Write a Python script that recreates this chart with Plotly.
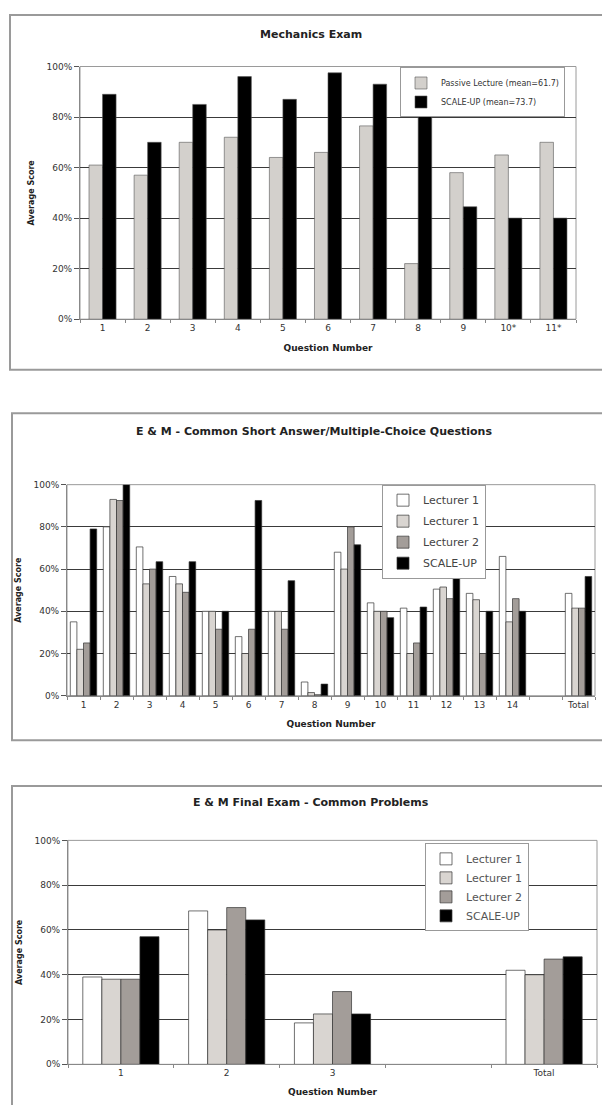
import plotly.graph_objects as go

# page body has an 8px default margin: the figure is sized so the page fits 610x1113
OFF = 8
W, H = 610 - OFF, 1113 - 2 * OFF

# ---------------- data ----------------
mech_questions = ["1", "2", "3", "4", "5", "6", "7", "8", "9", "10*", "11*"]
mech_passive = [61, 57, 70, 72, 64, 66, 76.5, 22, 58, 65, 70]
mech_scaleup = [89, 70, 85, 96, 87, 97.5, 93, 82, 44.5, 40, 40]
mech_names = ["Passive Lecture (mean=61.7)", "SCALE-UP (mean=73.7)"]

sa_questions = ["1", "2", "3", "4", "5", "6", "7", "8", "9", "10", "11", "12", "13", "14", " ", "Total"]
sa_lect1a = [35, 80, 70.5, 56.5, 40, 28, 40, 6.5, 68, 44, 41.5, 50.5, 48.5, 66, None, 48.5]
sa_lect1b = [22, 93, 53, 53, 40, 20, 40, 1.5, 60, 40, 20, 51.5, 45.5, 35, None, 41.5]
sa_lect2 = [25, 92.5, 60, 49, 31.5, 31.5, 31.5, 0.5, 80, 40, 25, 46, 20, 46, None, 41.5]
sa_scaleup = [79, 100, 63.5, 63.5, 40, 92.5, 54.5, 5.5, 71.5, 37, 42, 56, 40, 40, None, 56.5]

fe_questions = ["1", "2", "3", " ", "Total"]
fe_lect1a = [39, 68.5, 18.5, None, 42]
fe_lect1b = [38, 60, 22.5, None, 40]
fe_lect2 = [38, 70, 32.5, None, 47]
fe_scaleup = [57, 64.5, 22.5, None, 48]

group_names = ["Lecturer 1", "Lecturer 1", "Lecturer 2", "SCALE-UP"]
group_colors = ["#ffffff", "#d9d5d1", "#a39d99", "#000000"]
y_ticks = [0, 20, 40, 60, 80, 100]
y_ticktext = ["0%", "20%", "40%", "60%", "80%", "100%"]

FONT = "DejaVu Sans"


def px_x(p):
    return (p - OFF) / W


def px_y(p):
    return 1 - (p - OFF) / H


fig = go.Figure()

# ---------------- chart 1 ----------------
for i, (vals, col) in enumerate([(mech_passive, "#d3d0cc"), (mech_scaleup, "#000000")]):
    fig.add_trace(go.Bar(
        x=mech_questions, y=vals, name=mech_names[i],
        marker=dict(color=col, line=dict(color="#555555", width=0.6)),
        width=0.3, offset=-0.3 + 0.3 * i,
        xaxis="x", yaxis="y", legend="legend",
    ))

# ---------------- chart 2 ----------------
for i, vals in enumerate([sa_lect1a, sa_lect1b, sa_lect2, sa_scaleup]):
    fig.add_trace(go.Bar(
        x=sa_questions, y=vals, name=group_names[i],
        marker=dict(color=group_colors[i], line=dict(color="#333333", width=0.7)),
        width=0.2, offset=-0.4 + 0.2 * i,
        xaxis="x2", yaxis="y2", legend="legend2", legendgroup="a%d" % i,
    ))

# ---------------- chart 3 ----------------
for i, vals in enumerate([fe_lect1a, fe_lect1b, fe_lect2, fe_scaleup]):
    fig.add_trace(go.Bar(
        x=fe_questions, y=vals, name=group_names[i],
        marker=dict(color=group_colors[i], line=dict(color="#333333", width=0.7)),
        width=0.18, offset=-0.36 + 0.18 * i,
        xaxis="x3", yaxis="y3", legend="legend3", legendgroup="b%d" % i,
    ))

charts = [
    dict(xd=(80, 576), yd=(62, 317), box=(10, 10, 604, 368), title="Mechanics Exam", tx=311, ty=30, xt_standoff=12),
    dict(xd=(67, 595), yd=(484, 697), box=(12, 412, 604, 742), title="E & M - Common Short Answer/Multiple-Choice Questions", tx=314, ty=430, xt_standoff=12),
    dict(xd=(68, 597), yd=(843, 1069), box=(12, 788, 604, 1125), title="E & M Final Exam - Common Problems", tx=311, ty=805, xt_standoff=11),
]

layout = dict(
    width=W, height=H, autosize=False,
    margin=dict(l=0, r=0, t=0, b=0),
    paper_bgcolor="white", plot_bgcolor="white",
    font=dict(family=FONT, size=10, color="#333333"),
    barmode="group",
    shapes=[], annotations=[],
)

for k, c in enumerate(charts):
    sfx = "" if k == 0 else str(k + 1)
    layout["xaxis" + sfx] = dict(
        domain=[px_x(c["xd"][0]), px_x(c["xd"][1])],
        anchor="y" + sfx, type="category",
        showline=True, linecolor="#888888", linewidth=1,
        ticks="outside", tickson="boundaries", ticklen=3, tickcolor="#888888",
        tickfont=dict(size=9, color="#333333"),
        title=dict(text="<b>Question Number</b>", font=dict(size=9, color="#222222"), standoff=c["xt_standoff"]),
        showgrid=False, fixedrange=True,
    )
    layout["yaxis" + sfx] = dict(
        domain=[px_y(c["yd"][1]), px_y(c["yd"][0])],
        anchor="x" + sfx, range=[0, 100],
        tickvals=y_ticks, ticktext=y_ticktext,
        showgrid=True, gridcolor="#3a3a3a", gridwidth=1,
        showline=True, linecolor="#888888", linewidth=1,
        ticks="outside", ticklen=5, tickcolor="#555555",
        tickfont=dict(size=9, color="#333333"),
        title=dict(text="<b>Average Score</b>", font=dict(size=8, color="#222222"), standoff=10),
        zeroline=False, fixedrange=True,
    )
    l, t, r, b = c["box"]
    layout["shapes"].append(dict(
        type="rect", xref="paper", yref="paper",
        x0=px_x(l), x1=px_x(r), y0=px_y(b), y1=px_y(t),
        line=dict(color="#9a9a9a", width=2), layer="below",
    ))
    layout["shapes"].append(dict(
        type="rect", xref="paper", yref="paper",
        x0=px_x(c["xd"][0]), x1=px_x(c["xd"][1]), y0=px_y(c["yd"][1]), y1=px_y(c["yd"][0]),
        line=dict(color="#9a9a9a", width=1), layer="below",
    ))
    layout["annotations"].append(dict(
        text="<b>%s</b>" % c["title"], xref="paper", yref="paper",
        x=px_x(c["tx"]), y=px_y(c["ty"]), xanchor="center", yanchor="middle",
        showarrow=False, font=dict(size=11, color="#222222"),
    ))

layout["legend"] = dict(
    x=px_x(400), y=px_y(63), xanchor="left", yanchor="top",
    bgcolor="white", bordercolor="#999999", borderwidth=1,
    font=dict(size=8, color="#333333"), itemwidth=30, tracegroupgap=0,
)
layout["legend2"] = dict(
    x=px_x(382), y=px_y(484), xanchor="left", yanchor="top",
    bgcolor="white", bordercolor="#999999", borderwidth=1,
    font=dict(size=11, color="#444444"), itemwidth=30, tracegroupgap=2,
)
layout["legend3"] = dict(
    x=px_x(425), y=px_y(846), xanchor="left", yanchor="top",
    bgcolor="white", bordercolor="#999999", borderwidth=1,
    font=dict(size=11, color="#555555"), itemwidth=30, tracegroupgap=0,
)

fig.update_layout(**layout)
fig.write_html("out.html")
